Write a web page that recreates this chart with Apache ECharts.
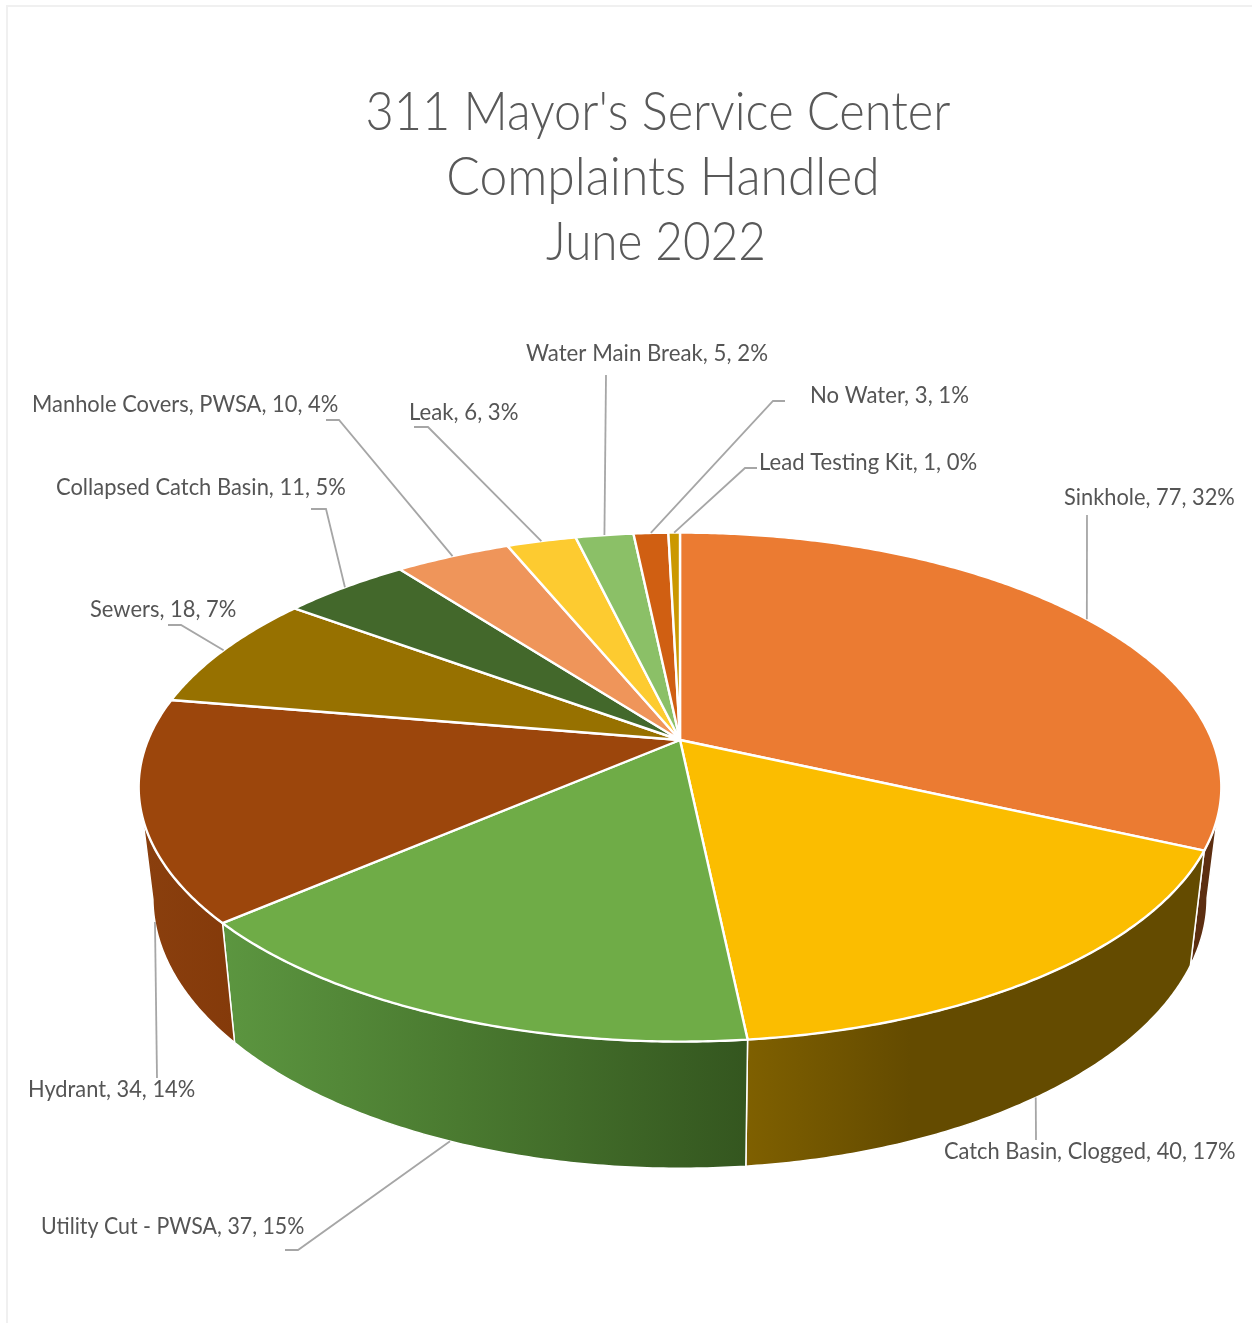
<!DOCTYPE html>
<html><head><meta charset="utf-8">
<style>html,body{margin:0;padding:0;background:#fff}#c{width:1252px;height:1323px}</style>
<script src="https://cdn.jsdelivr.net/npm/echarts@6/dist/echarts.min.js"></script>
</head><body><div id="c"></div>
<script>
// ---- data ----
const titleLines = ["311 Mayor's Service Center", "Complaints Handled", "June 2022"];
const categories = ["Sinkhole","Catch Basin, Clogged","Utility Cut - PWSA","Hydrant","Sewers","Collapsed Catch Basin","Manhole Covers, PWSA","Leak","Water Main Break","No Water","Lead Testing Kit"];
const values = [77,40,37,34,18,11,10,6,5,3,1];
const percents = [32,17,15,14,7,5,4,3,2,1,0];

// ---- styling ----
const topColors = ['#EB7B32','#FBBD00','#6FAC47','#9C460C','#977100','#43682B','#EF955A','#FDCB30','#8BC067','#D05F12','#CB9800'];
const sideFills = [
  [[0,'#5C2E10'],[1,'#5C2E10']],
  [[0,'#7F6000'],[0.36,'#644B00'],[1,'#644B00']],
  [[0,'#5C9640'],[0.45,'#4A7A30'],[1,'#34561F']],
  [[0,'#8A3F0E'],[1,'#843A0A']]
];
// where the rim of the slab starts/stops being visible, in degrees of the pie
const silhouette = {right:{top:107.5,bottom:100.7}, left:{top:252.5,bottom:259}};

// ---- projection of the tilted disc ----
const K = -0.185;
const topFace = {x:680, y:740, a:532, b:245.8};
const botFace = {x:680, y:848, a:518, b:261};
const rad = d => d*Math.PI/180;
function proj(face, deg){
  const u = Math.sin(rad(deg)), v = -Math.cos(rad(deg)), w = 1+K*v;
  return [face.x+face.a*u/w, face.y+face.b*v/w];
}
function arc(face, from, to){
  const n = Math.max(2, Math.ceil(Math.abs(to-from)/0.5)), pts=[];
  for(let i=0;i<=n;i++) pts.push(proj(face, from+(to-from)*i/n));
  return pts;
}
const total = values.reduce((a,b)=>a+b,0);
let acc = 0;
const spans = values.map(v=>{const s=acc/total*360; acc+=v; return [s,acc/total*360];});

// label layout: text left / middle, horizontal squeeze, elbow points of the leader, face it springs from
const labelLayout = [
  {x:1064,y:497,sx:.910,elbows:[[1087,515]],face:'top'},
  {x:944,y:1151,sx:.911,elbows:[[1036,1140]],face:'bot'},
  {x:41,y:1226,sx:.890,elbows:[[298,1250],[285,1250]],face:'bot'},
  {x:28,y:1089,sx:.909,elbows:[[157,1078]],face:'bot'},
  {x:90,y:609,sx:.914,elbows:[[181,625],[168,625]],face:'top'},
  {x:56,y:487,sx:.914,elbows:[[326,509],[311,509]],face:'top'},
  {x:32,y:404,sx:.913,elbows:[[339,420],[326,420]],face:'top'},
  {x:409,y:412,sx:.924,elbows:[[428,427],[414,427]],face:'top'},
  {x:526,y:353,sx:.927,elbows:[[606,375]],face:'top'},
  {x:810,y:395,sx:.923,elbows:[[773,401],[785,401]],face:'top'},
  {x:759,y:462,sx:.920,elbows:[[745,468],[757,468]],face:'top'}
];
const titleLayout = [{x:658,y:113,sx:.903},{x:663,y:178,sx:.922},{x:656,y:243,sx:.883}];
const FONT = 'Lato, "Open Sans", sans-serif';

function sidePolygon(i){
  const [s,e] = spans[i];
  if(i===0){ return arc(topFace,silhouette.right.top,e).concat(arc(botFace,e,silhouette.right.bottom)); }
  if(i===3){ return arc(topFace,s,silhouette.left.top).concat(arc(botFace,silhouette.left.bottom,s)); }
  return arc(topFace,s,e).concat(arc(botFace,e,s));
}

const chart = echarts.init(document.getElementById('c'), null, {renderer:'canvas'});
chart.setOption({
  animation:false,
  backgroundColor:'#fff',
  graphic:[
    {type:'polyline',silent:true,z:-1,shape:{points:[[7,1323],[7,6],[1252,6]]},style:{stroke:'#F0F0F0',lineWidth:2,fill:null}}
  ].concat(titleLines.map((t,i)=>({
    type:'text',silent:true,x:titleLayout[i].x,y:titleLayout[i].y,scaleX:titleLayout[i].sx,
    style:{text:t,fontFamily:FONT,fontWeight:300,fontSize:54,fill:'#595959',align:'center',verticalAlign:'middle'}
  }))),
  series:[
    { // rim
      type:'custom', coordinateSystem:'none', z:2, silent:true, data:values,
      renderItem(params){
        const i=params.dataIndex;
        if(i>=sideFills.length) return {type:'group',children:[]};
        const stops=sideFills[i].map(s=>({offset:s[0],color:s[1]}));
        return {type:'polygon',shape:{points:sidePolygon(i)},
          style:{fill:new echarts.graphic.LinearGradient(0,0,1,0,stops),stroke:'#fff',lineWidth:1.5,lineJoin:'round'}};
      }
    },
    { // top face
      type:'custom', coordinateSystem:'none', z:3, silent:true, data:values,
      renderItem(params){
        const i=params.dataIndex,[s,e]=spans[i];
        return {type:'polygon',shape:{points:[[topFace.x,topFace.y]].concat(arc(topFace,s,e))},
          style:{fill:topColors[i],stroke:'#fff',lineWidth:2.4,lineJoin:'round'}};
      }
    },
    { // leaders and labels
      type:'custom', coordinateSystem:'none', z:4, silent:true, data:values,
      renderItem(params,api){
        const i=params.dataIndex,[s,e]=spans[i],L=labelLayout[i];
        const start=proj(L.face==='top'?topFace:botFace,(s+e)/2);
        return {type:'group',children:[
          {type:'polyline',shape:{points:[start].concat(L.elbows)},style:{stroke:'#A6A6A6',lineWidth:1.8,fill:null}},
          {type:'text',x:L.x,y:L.y,scaleX:L.sx,style:{text:categories[i]+', '+api.value(0)+', '+percents[i]+'%',
            fontFamily:FONT,fontSize:24,fill:'#555555',align:'left',verticalAlign:'middle'}}
        ]};
      }
    }
  ]
});
</script></body></html>
